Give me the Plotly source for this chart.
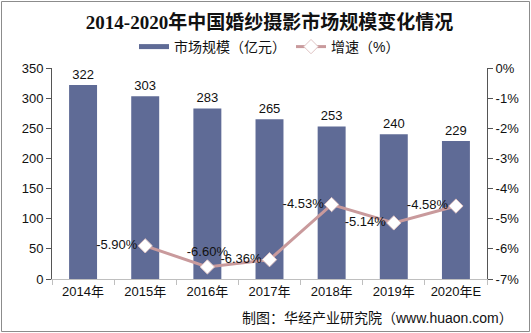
import plotly.graph_objects as go

categories = ["2014年", "2015年", "2016年", "2017年", "2018年", "2019年", "2020年E"]
market_size = [322, 303, 283, 265, 253, 240, 229]
growth = [None, -5.90, -6.60, -6.36, -4.53, -5.14, -4.58]
growth_pos = ["middle left", "middle left", "top center", "middle left", "middle left", "middle left", "middle left"]
left_ticks = [0, 50, 100, 150, 200, 250, 300, 350]
right_ticks = [0, -1, -2, -3, -4, -5, -6, -7]
right_tick_text = ["0%", "-1%", "-2%", "-3%", "-4%", "-5%", "-6%", "-7%"]

W, H = 531, 333
L, R, T, B = 52, 44, 68, 54
pw, ph = W - L - R, H - T - B

font_main = "Liberation Sans, Arial, Noto Sans CJK SC, sans-serif"
bar_color = "#5F6B96"

fig = go.Figure()
fig.add_trace(go.Bar(
    x=categories, y=market_size, name="市场规模（亿元）", showlegend=False,
    marker=dict(color=bar_color, line=dict(width=0)),
    width=0.45,
    text=[str(v) for v in market_size], textposition="outside",
    textfont=dict(size=13, color="#111111", family=font_main),
    cliponaxis=False,
))
# legend proxy for the bar series (flat wide swatch like the reference)
fig.add_trace(go.Scatter(
    x=[None], y=[None], name="市场规模（亿元）", mode="lines",
    line=dict(color=bar_color, width=5),
))
fig.add_trace(go.Scatter(
    x=categories, y=growth, name="增速（%）", yaxis="y2",
    mode="lines+markers+text",
    line=dict(color="#C99A9C", width=3),
    marker=dict(symbol="diamond", size=11, color="white", line=dict(color="#E0C4C4", width=1)),
    text=[None if g is None else f"{g:.2f}%" for g in growth],
    textposition=growth_pos,
    textfont=dict(size=13, color="#111111", family=font_main),
    cliponaxis=False,
))

fig.update_layout(
    width=W, height=H,
    margin=dict(l=L, r=R, t=T, b=B, pad=0),
    paper_bgcolor="white", plot_bgcolor="white",
    font=dict(family=font_main, size=12, color="#111111"),
    title=dict(
        text="<b>2014-2020年中国婚纱摄影市场规模变化情况</b>",
        x=0.5, xanchor="center", xref="paper",
        y=1 - 22 / H, yanchor="middle", yref="container",
        font=dict(family="Liberation Serif, Noto Sans CJK SC, serif", size=19, color="#111111"),
    ),
    showlegend=True,
    legend=dict(
        orientation="h", x=0.5, xanchor="center", y=1 + (T - 47) / ph, yanchor="middle",
        font=dict(size=14, color="#111111"), bgcolor="rgba(0,0,0,0)",
        itemwidth=30, tracegroupgap=0,
    ),
    bargap=0.55,
    xaxis=dict(
        showline=True, linecolor="#BFBFBF", linewidth=1,
        ticks="outside", tickson="boundaries", ticklen=5, tickcolor="#BFBFBF",
        tickfont=dict(size=13, color="#111111"), showgrid=False,
    ),
    yaxis=dict(
        range=[0, 350], tickvals=left_ticks, showline=True, linecolor="#555555", linewidth=1,
        ticks="outside", ticklen=5, tickcolor="#555555", showgrid=False, zeroline=False,
        tickfont=dict(size=13, color="#111111"),
    ),
    yaxis2=dict(
        range=[-7, 0], overlaying="y", side="right",
        tickvals=right_ticks, ticktext=right_tick_text,
        showline=True, linecolor="#555555", linewidth=1,
        ticks="outside", ticklen=5, tickcolor="#555555", showgrid=False, zeroline=False,
        tickfont=dict(size=13, color="#111111"),
    ),
    annotations=[dict(
        text="制图：华经产业研究院（www.huaon.com）",
        xref="paper", yref="paper",
        x=(515 - L) / pw, xanchor="right",
        y=-(318 - (T + ph)) / ph, yanchor="middle",
        showarrow=False, font=dict(size=14, color="#111111"),
    )],
    shapes=[dict(
        type="rect", xref="paper", yref="paper",
        x0=-(L - 1.5) / pw, x1=1 + (R - 1.5) / pw,
        y0=-(B - 1.5) / ph, y1=1 + (T - 1.5) / ph,
        line=dict(color="#8C8C8C", width=1), fillcolor="rgba(0,0,0,0)", layer="below",
    )],
)

fig.write_html("out.html")
